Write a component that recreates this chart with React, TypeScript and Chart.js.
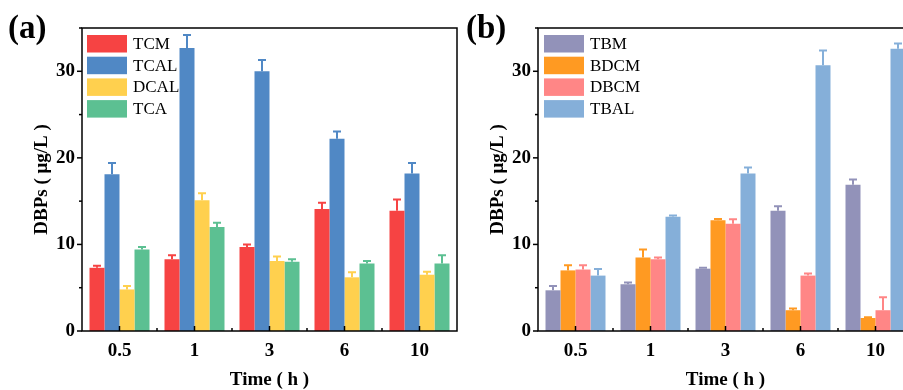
import React, { useEffect, useRef } from "react";
import { Chart, registerables } from "chart.js";

Chart.register(...registerables);

// ---------- data ----------
const categories = ["0.5", "1", "3", "6", "10"];
const yMajorTicks = [0, 10, 20, 30];

// panel (a)
const tcm = [7.3, 8.3, 9.7, 14.1, 13.9];
const tcmErr = [0.25, 0.45, 0.3, 0.7, 1.3];
const tcal = [18.1, 32.7, 30.0, 22.2, 18.2];
const tcalErr = [1.3, 1.5, 1.3, 0.85, 1.2];
const dcal = [4.8, 15.1, 8.1, 6.2, 6.5];
const dcalErr = [0.4, 0.8, 0.5, 0.6, 0.35];
const tca = [9.4, 12.0, 8.0, 7.8, 7.8];
const tcaErr = [0.3, 0.5, 0.3, 0.3, 0.95];

// panel (b)
const tbm = [4.7, 5.4, 7.2, 13.9, 16.9];
const tbmErr = [0.5, 0.2, 0.1, 0.5, 0.6];
const bdcm = [7.0, 8.5, 12.8, 2.4, 1.5];
const bdcmErr = [0.6, 0.9, 0.15, 0.2, 0.1];
const dbcm = [7.1, 8.3, 12.4, 6.4, 2.4];
const dbcmErr = [0.5, 0.2, 0.5, 0.25, 1.5];
const tbal = [6.4, 13.2, 18.2, 30.7, 32.6];
const tbalErr = [0.75, 0.15, 0.7, 1.7, 0.6];

const SERIF = "'Liberation Serif', 'Times New Roman', serif";

const decorPlugin = {
  id: "decor",
  afterDatasetsDraw(chart: any) {
    const ctx = chart.ctx;
    const y = chart.scales.y;
    chart.data.datasets.forEach((ds: any, i: number) => {
      const meta = chart.getDatasetMeta(i);
      ctx.save();
      ctx.strokeStyle = ds.backgroundColor;
      ctx.lineWidth = 2;
      meta.data.forEach((bar: any, j: number) => {
        const v = ds.data[j];
        const e = ds.errors[j];
        const yTop = y.getPixelForValue(v + e);
        const yBar = y.getPixelForValue(v);
        ctx.beginPath();
        ctx.moveTo(bar.x, yBar);
        ctx.lineTo(bar.x, yTop);
        ctx.moveTo(bar.x - 4, yTop);
        ctx.lineTo(bar.x + 4, yTop);
        ctx.stroke();
      });
      ctx.restore();
    });
  },
  afterDraw(chart: any, _args: any, opts: any) {
    const ctx = chart.ctx;
    const { left, right, top, bottom } = chart.chartArea;
    const ys = chart.scales.y;
    const xs = chart.scales.x;
    ctx.save();
    // frame
    ctx.strokeStyle = "#000";
    ctx.lineWidth = 1.5;
    ctx.strokeRect(left, top, right - left, bottom - top);
    // y ticks (major + minor)
    for (let v = 0; v <= 35; v += 5) {
      const py = ys.getPixelForValue(v);
      const len = yMajorTicks.includes(v) ? 5 : 3;
      ctx.beginPath();
      ctx.moveTo(left - len, py);
      ctx.lineTo(left, py);
      ctx.stroke();
    }
    // x ticks
    const n = categories.length;
    for (let i = 0; i < n; i++) {
      const px = xs.getPixelForValue(i);
      ctx.beginPath();
      ctx.moveTo(px, bottom);
      ctx.lineTo(px, bottom - 5);
      ctx.stroke();
    }
    const step = (right - left) / n;
    for (let i = 1; i < n; i++) {
      const px = left + step * i;
      ctx.beginPath();
      ctx.moveTo(px, bottom);
      ctx.lineTo(px, bottom - 3);
      ctx.stroke();
    }
    // panel label
    ctx.fillStyle = "#000";
    ctx.font = `bold 33px ${SERIF}`;
    ctx.textAlign = "left";
    ctx.textBaseline = "middle";
    ctx.fillText(opts.label, opts.labelX, 29);
    // axis titles
    ctx.font = `bold 19px ${SERIF}`;
    ctx.textAlign = "center";
    ctx.fillText("Time ( h )", (left + right) / 2, 380);
    ctx.save();
    ctx.translate(42, (top + bottom) / 2);
    ctx.rotate(-Math.PI / 2);
    ctx.fillText("DBPs ( μg/L )", 0, 0);
    ctx.restore();
    // legend
    ctx.font = `17px ${SERIF}`;
    ctx.textAlign = "left";
    chart.data.datasets.forEach((ds: any, i: number) => {
      const by = top + 7 + i * 21.7;
      ctx.fillStyle = ds.backgroundColor;
      ctx.fillRect(left + opts.legendX, by, 40, 17.5);
      ctx.fillStyle = "#000";
      ctx.fillText(ds.label, left + opts.legendX + 46, by + 9.5);
    });
    ctx.restore();
  },
};

type Series = { label: string; data: number[]; errors: number[]; color: string };

function Panel({ series, label, labelX, legendX, left }: { series: Series[]; label: string; labelX: number; legendX: number; left: number }) {
  const ref = useRef<HTMLCanvasElement | null>(null);
  useEffect(() => {
    if (!ref.current) return;
    const chart = new Chart(ref.current, {
      type: "bar",
      data: {
        labels: categories,
        datasets: series.map((s) => ({
          label: s.label,
          data: s.data,
          errors: s.errors,
          backgroundColor: s.color,
          borderWidth: 0,
          categoryPercentage: 0.8,
          barPercentage: 1.0,
        })) as any,
      },
      options: {
        responsive: false,
        animation: false,
        devicePixelRatio: 1,
        layout: { padding: { top: 28, right: 3, bottom: 0, left: 0 } },
        plugins: {
          legend: { display: false },
          title: { display: false },
          tooltip: { enabled: false },
          decor: { label, labelX, legendX },
        } as any,
        scales: {
          x: {
            grid: { display: false, drawTicks: false },
            border: { display: false },
            ticks: {
              color: "#000",
              padding: 9,
              font: { family: SERIF, size: 19, weight: "bold" },
            },
            afterFit: (s: any) => {
              s.height = 59;
            },
          },
          y: {
            min: 0,
            max: 35,
            grid: { display: false, drawTicks: false },
            border: { display: false },
            afterBuildTicks: (s: any) => {
              s.ticks = yMajorTicks.map((v) => ({ value: v }));
            },
            ticks: {
              color: "#000",
              padding: 7,
              font: { family: SERIF, size: 19, weight: "bold" },
            },
            afterFit: (s: any) => {
              s.width = 82;
            },
          },
        },
      },
      plugins: [decorPlugin],
    });
    return () => chart.destroy();
  }, []);
  return (
    <canvas
      ref={ref}
      width={460}
      height={390}
      style={{ position: "absolute", left, top: 0, width: 460, height: 390 }}
    />
  );
}

const seriesA: Series[] = [
  { label: "TCM", data: tcm, errors: tcmErr, color: "#F64343" },
  { label: "TCAL", data: tcal, errors: tcalErr, color: "#5088C5" },
  { label: "DCAL", data: dcal, errors: dcalErr, color: "#FFD04E" },
  { label: "TCA", data: tca, errors: tcaErr, color: "#5CC092" },
];
const seriesB: Series[] = [
  { label: "TBM", data: tbm, errors: tbmErr, color: "#9292B9" },
  { label: "BDCM", data: bdcm, errors: bdcmErr, color: "#FF9A22" },
  { label: "DBCM", data: dbcm, errors: dbcmErr, color: "#FF8686" },
  { label: "TBAL", data: tbal, errors: tbalErr, color: "#85AFD9" },
];

export default function App() {
  return (
    <div
      style={{
        position: "fixed",
        left: 0,
        top: 0,
        width: 903,
        height: 390,
        overflow: "hidden",
        background: "#fff",
      }}
    >
      <Panel series={seriesA} label="(a)" labelX={8} legendX={5} left={0} />
      <Panel series={seriesB} label="(b)" labelX={10} legendX={6} left={456} />
    </div>
  );
}
